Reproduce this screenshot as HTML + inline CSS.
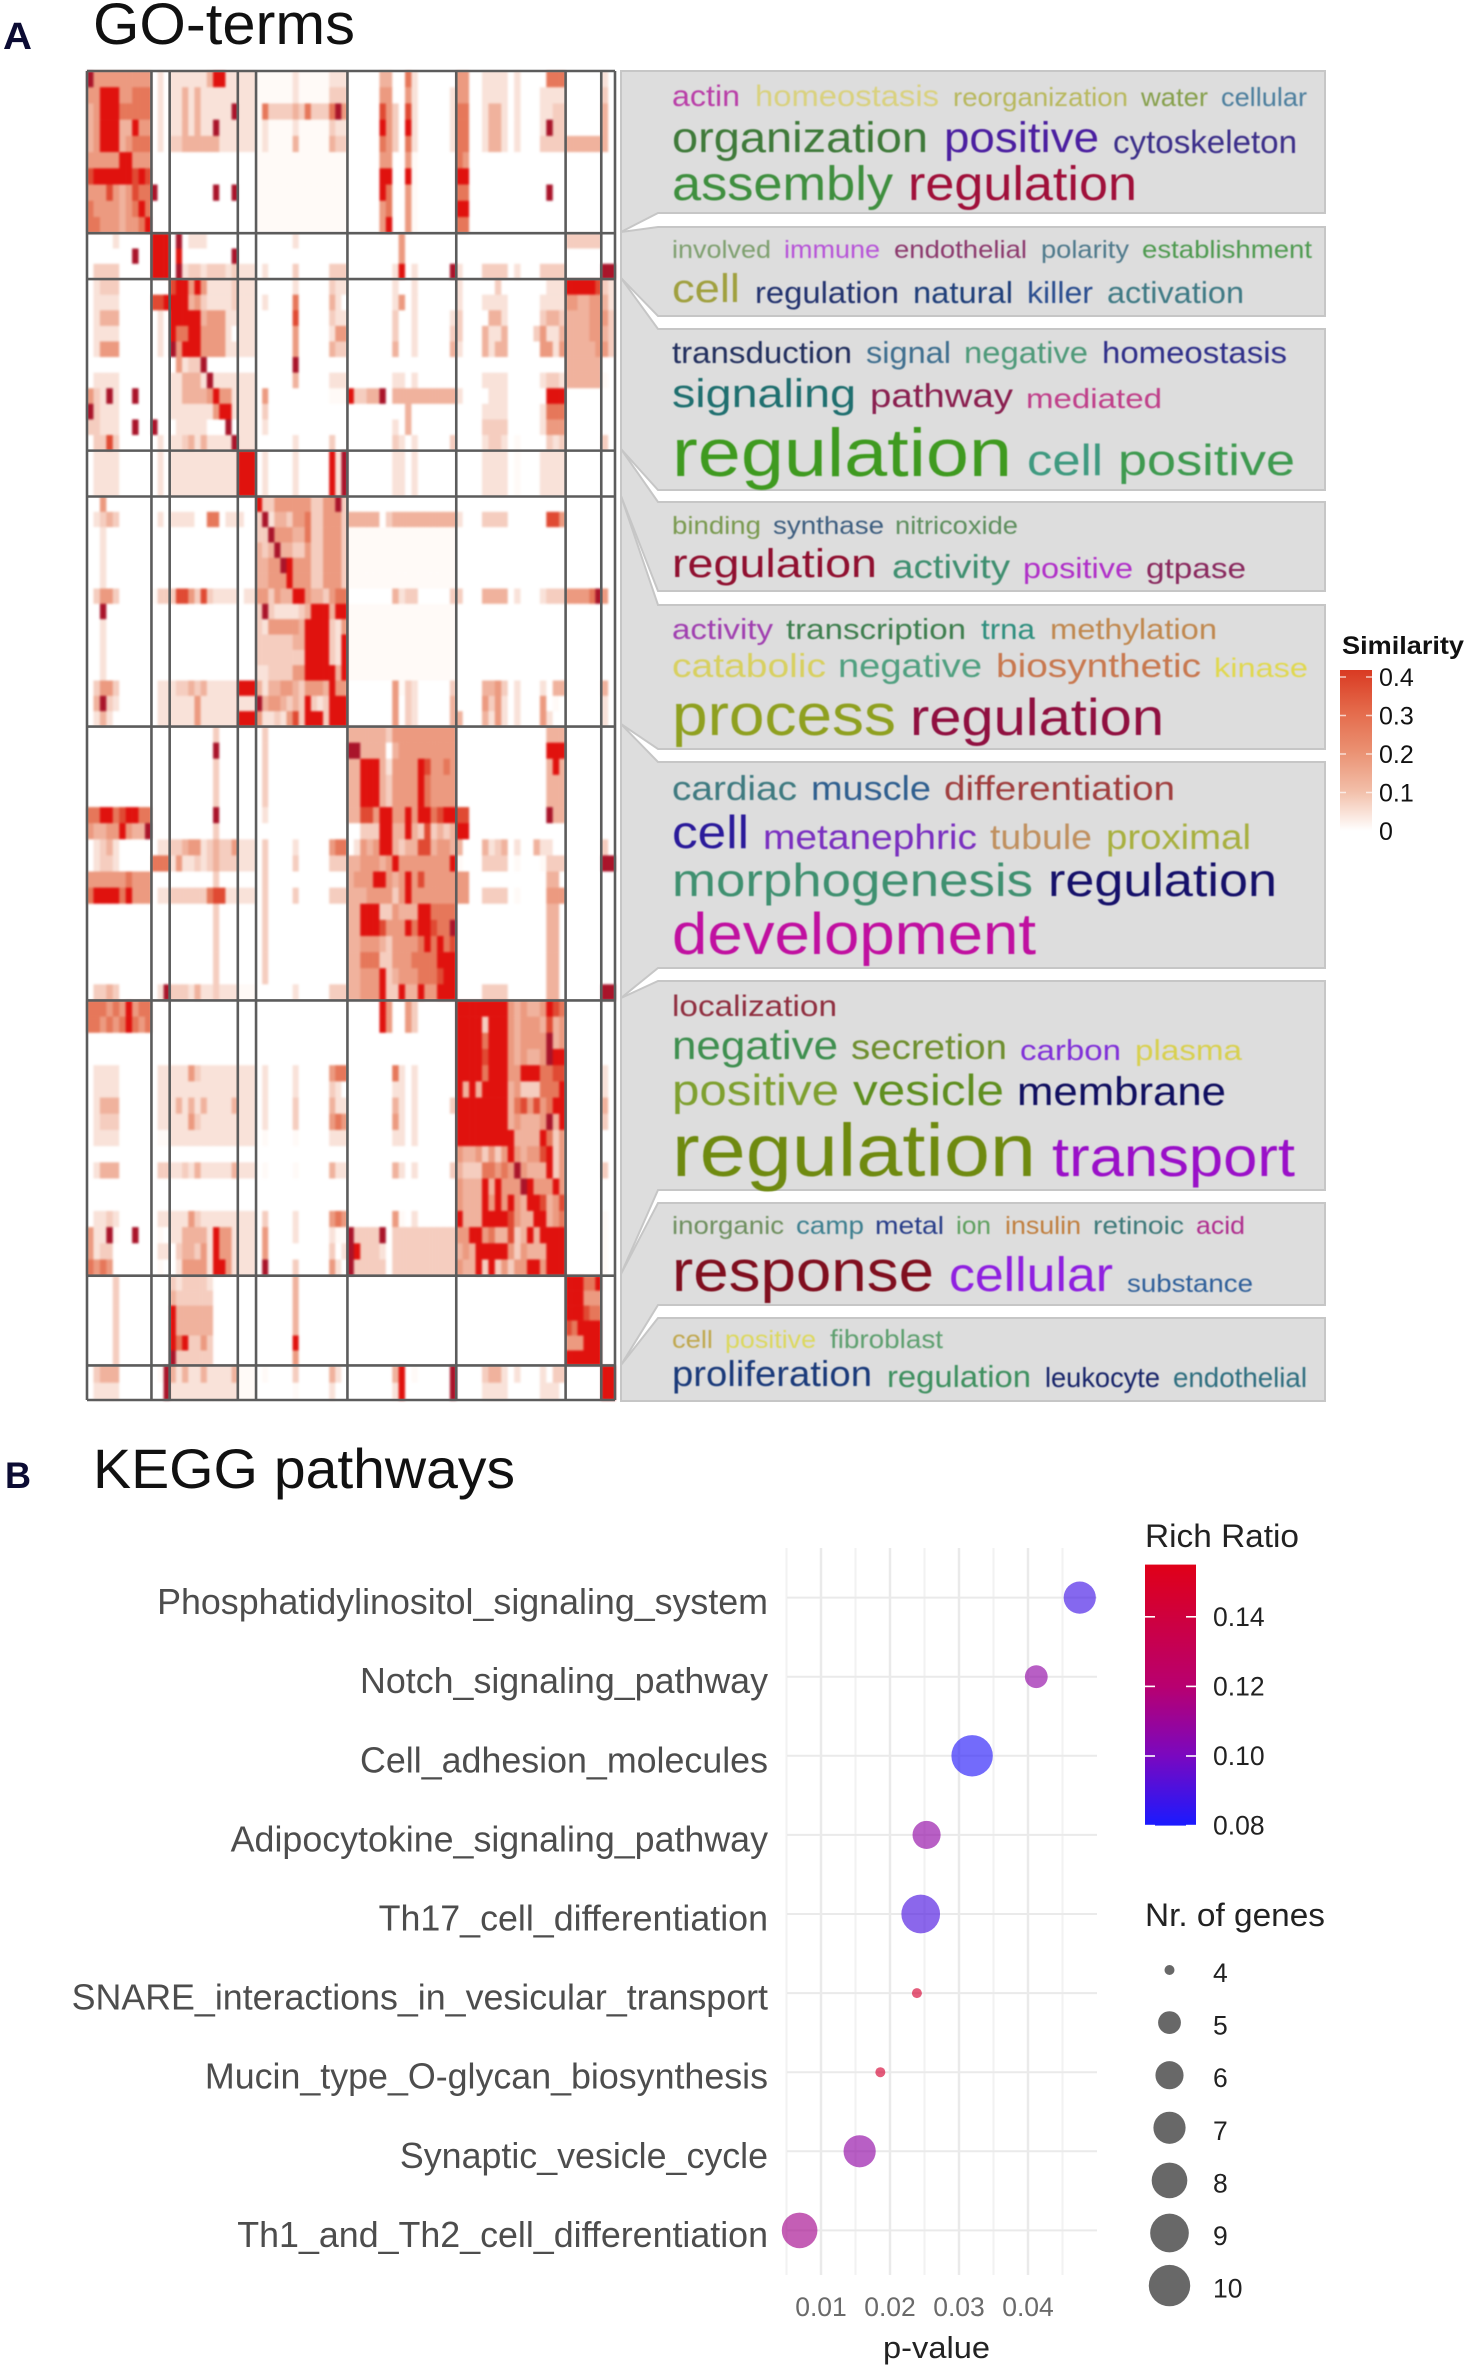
<!DOCTYPE html>
<html lang="en">
<head>
<meta charset="utf-8">
<title>GO-terms and KEGG pathways</title>
<style>
html,body{margin:0;padding:0;background:#fff;}
svg{display:block;font-family:"Liberation Sans",sans-serif;}
.w{filter:blur(.5px);}
</style>
</head>
<body>
<svg id="fig" width="1469" height="2371" viewBox="0 0 1469 2371" xmlns="http://www.w3.org/2000/svg">
<text x="3" y="49" font-size="38" font-weight="bold" fill="#0b0b33" textLength="29" lengthAdjust="spacingAndGlyphs">A</text>
<text x="93" y="44" font-size="58" fill="#111" textLength="262" lengthAdjust="spacingAndGlyphs">GO-terms</text>
<text x="5" y="1488" font-size="37" font-weight="bold" fill="#0b0b33" textLength="26" lengthAdjust="spacingAndGlyphs">B</text>
<text x="93" y="1488" font-size="56" fill="#111" textLength="422" lengthAdjust="spacingAndGlyphs">KEGG pathways</text>

<g id="heatmap-cells" style="filter:blur(1.1px)"></g>
<g id="heatmap-lines"></g>

<g fill="#dddddd" stroke="#c6c6c6" stroke-width="2">
<polygon points="621,71 658,71 1325,71 1325,213 658,213 621,232"/>
<polygon points="621,232 658,227 1325,227 1325,316 658,316 621,278"/>
<polygon points="621,278 658,329 1325,329 1325,490 658,490 621,449"/>
<polygon points="621,449 658,502 1325,502 1325,591 658,591 621,496"/>
<polygon points="621,496 658,605 1325,605 1325,749 658,749 621,724"/>
<polygon points="621,724 658,762 1325,762 1325,968 658,968 621,998"/>
<polygon points="621,998 658,981 1325,981 1325,1190 658,1190 621,1274"/>
<polygon points="621,1274 658,1203 1325,1203 1325,1305 658,1305 621,1365"/>
<polygon points="621,1365 658,1318 1325,1318 1325,1401 621,1401"/>
</g>

<g class="w">
<text x="672" y="106" font-size="30" fill="#b93fa8" textLength="68" lengthAdjust="spacingAndGlyphs">actin</text>
<text x="755" y="106" font-size="30" fill="#d9d17e" textLength="184" lengthAdjust="spacingAndGlyphs">homeostasis</text>
<text x="953" y="106" font-size="26" fill="#b8b85e" textLength="175" lengthAdjust="spacingAndGlyphs">reorganization</text>
<text x="1141" y="106" font-size="26" fill="#87a04d" textLength="67" lengthAdjust="spacingAndGlyphs">water</text>
<text x="1221" y="106" font-size="26" fill="#4d7f9e" textLength="86" lengthAdjust="spacingAndGlyphs">cellular</text>
<text x="672" y="152" font-size="43" fill="#3f7a3a" textLength="256" lengthAdjust="spacingAndGlyphs">organization</text>
<text x="944" y="152" font-size="43" fill="#4b1fa0" textLength="155" lengthAdjust="spacingAndGlyphs">positive</text>
<text x="1113" y="153" font-size="32" fill="#3c2f8a" textLength="184" lengthAdjust="spacingAndGlyphs">cytoskeleton</text>
<text x="672" y="200" font-size="48" fill="#3f8f3f" textLength="221" lengthAdjust="spacingAndGlyphs">assembly</text>
<text x="908" y="200" font-size="48" fill="#a0103a" textLength="229" lengthAdjust="spacingAndGlyphs">regulation</text>

<text x="672" y="258" font-size="25" fill="#7fa070" textLength="99" lengthAdjust="spacingAndGlyphs">involved</text>
<text x="784" y="258" font-size="25" fill="#b755d8" textLength="96" lengthAdjust="spacingAndGlyphs">immune</text>
<text x="894" y="258" font-size="25" fill="#8c3a6e" textLength="133" lengthAdjust="spacingAndGlyphs">endothelial</text>
<text x="1041" y="258" font-size="25" fill="#4f7a8c" textLength="88" lengthAdjust="spacingAndGlyphs">polarity</text>
<text x="1142" y="258" font-size="25" fill="#4f9a50" textLength="170" lengthAdjust="spacingAndGlyphs">establishment</text>
<text x="672" y="302" font-size="40" fill="#a0a040" textLength="68" lengthAdjust="spacingAndGlyphs">cell</text>
<text x="755" y="303" font-size="31" fill="#23336f" textLength="144" lengthAdjust="spacingAndGlyphs">regulation</text>
<text x="913" y="303" font-size="31" fill="#1f3f7a" textLength="100" lengthAdjust="spacingAndGlyphs">natural</text>
<text x="1027" y="303" font-size="31" fill="#2c4f90" textLength="66" lengthAdjust="spacingAndGlyphs">killer</text>
<text x="1107" y="303" font-size="31" fill="#3f7a85" textLength="137" lengthAdjust="spacingAndGlyphs">activation</text>

<text x="672" y="363" font-size="31" fill="#23305f" textLength="180" lengthAdjust="spacingAndGlyphs">transduction</text>
<text x="866" y="363" font-size="31" fill="#3f6f8f" textLength="85" lengthAdjust="spacingAndGlyphs">signal</text>
<text x="964" y="363" font-size="31" fill="#4f9a7a" textLength="124" lengthAdjust="spacingAndGlyphs">negative</text>
<text x="1102" y="363" font-size="31" fill="#30308a" textLength="185" lengthAdjust="spacingAndGlyphs">homeostasis</text>
<text x="672" y="407" font-size="40" fill="#1f6f6f" textLength="184" lengthAdjust="spacingAndGlyphs">signaling</text>
<text x="870" y="407" font-size="33" fill="#8a2050" textLength="143" lengthAdjust="spacingAndGlyphs">pathway</text>
<text x="1026" y="408" font-size="28" fill="#c0408a" textLength="136" lengthAdjust="spacingAndGlyphs">mediated</text>
<text x="672" y="476" font-size="68" fill="#3f9a20" textLength="340" lengthAdjust="spacingAndGlyphs">regulation</text>
<text x="1027" y="475" font-size="44" fill="#3f9a80" textLength="76" lengthAdjust="spacingAndGlyphs">cell</text>
<text x="1118" y="475" font-size="44" fill="#3f9a50" textLength="177" lengthAdjust="spacingAndGlyphs">positive</text>

<text x="672" y="534" font-size="25" fill="#7a9a50" textLength="89" lengthAdjust="spacingAndGlyphs">binding</text>
<text x="773" y="534" font-size="25" fill="#3f5f80" textLength="111" lengthAdjust="spacingAndGlyphs">synthase</text>
<text x="895" y="534" font-size="25" fill="#5f8f5f" textLength="123" lengthAdjust="spacingAndGlyphs">nitricoxide</text>
<text x="672" y="577" font-size="40" fill="#901030" textLength="205" lengthAdjust="spacingAndGlyphs">regulation</text>
<text x="892" y="578" font-size="33" fill="#3f8f70" textLength="118" lengthAdjust="spacingAndGlyphs">activity</text>
<text x="1023" y="578" font-size="29" fill="#b030c8" textLength="110" lengthAdjust="spacingAndGlyphs">positive</text>
<text x="1146" y="578" font-size="29" fill="#8a2a5f" textLength="100" lengthAdjust="spacingAndGlyphs">gtpase</text>

<text x="672" y="639" font-size="29" fill="#a040b0" textLength="101" lengthAdjust="spacingAndGlyphs">activity</text>
<text x="786" y="639" font-size="29" fill="#3f7f4f" textLength="180" lengthAdjust="spacingAndGlyphs">transcription</text>
<text x="981" y="639" font-size="29" fill="#2f8f7f" textLength="54" lengthAdjust="spacingAndGlyphs">trna</text>
<text x="1050" y="639" font-size="29" fill="#c0884f" textLength="167" lengthAdjust="spacingAndGlyphs">methylation</text>
<text x="672" y="677" font-size="33" fill="#d8d060" textLength="154" lengthAdjust="spacingAndGlyphs">catabolic</text>
<text x="838" y="677" font-size="33" fill="#50a080" textLength="144" lengthAdjust="spacingAndGlyphs">negative</text>
<text x="996" y="677" font-size="33" fill="#c8784f" textLength="205" lengthAdjust="spacingAndGlyphs">biosynthetic</text>
<text x="1214" y="677" font-size="27" fill="#e0d850" textLength="94" lengthAdjust="spacingAndGlyphs">kinase</text>
<text x="672" y="735" font-size="58" fill="#8fa020" textLength="224" lengthAdjust="spacingAndGlyphs">process</text>
<text x="910" y="735" font-size="52" fill="#901040" textLength="254" lengthAdjust="spacingAndGlyphs">regulation</text>

<text x="672" y="800" font-size="34" fill="#3f7a80" textLength="125" lengthAdjust="spacingAndGlyphs">cardiac</text>
<text x="811" y="800" font-size="34" fill="#2f5f8f" textLength="120" lengthAdjust="spacingAndGlyphs">muscle</text>
<text x="944" y="800" font-size="34" fill="#a03f3f" textLength="231" lengthAdjust="spacingAndGlyphs">differentiation</text>
<text x="672" y="848" font-size="46" fill="#2a1a9a" textLength="77" lengthAdjust="spacingAndGlyphs">cell</text>
<text x="763" y="849" font-size="35" fill="#7a30c0" textLength="214" lengthAdjust="spacingAndGlyphs">metanephric</text>
<text x="990" y="849" font-size="35" fill="#c0905f" textLength="102" lengthAdjust="spacingAndGlyphs">tubule</text>
<text x="1106" y="849" font-size="35" fill="#a8b040" textLength="145" lengthAdjust="spacingAndGlyphs">proximal</text>
<text x="672" y="896" font-size="46" fill="#3f9070" textLength="361" lengthAdjust="spacingAndGlyphs">morphogenesis</text>
<text x="1048" y="896" font-size="46" fill="#15106a" textLength="229" lengthAdjust="spacingAndGlyphs">regulation</text>
<text x="672" y="954" font-size="58" fill="#c010a0" textLength="364" lengthAdjust="spacingAndGlyphs">development</text>

<text x="672" y="1016" font-size="30" fill="#902f40" textLength="165" lengthAdjust="spacingAndGlyphs">localization</text>
<text x="672" y="1059" font-size="40" fill="#3f8f50" textLength="166" lengthAdjust="spacingAndGlyphs">negative</text>
<text x="851" y="1059" font-size="35" fill="#6f8f30" textLength="156" lengthAdjust="spacingAndGlyphs">secretion</text>
<text x="1020" y="1060" font-size="29" fill="#8030d8" textLength="101" lengthAdjust="spacingAndGlyphs">carbon</text>
<text x="1135" y="1060" font-size="29" fill="#d8d050" textLength="107" lengthAdjust="spacingAndGlyphs">plasma</text>
<text x="672" y="1105" font-size="44" fill="#7fa030" textLength="167" lengthAdjust="spacingAndGlyphs">positive</text>
<text x="853" y="1105" font-size="44" fill="#5f8f20" textLength="151" lengthAdjust="spacingAndGlyphs">vesicle</text>
<text x="1017" y="1105" font-size="40" fill="#100f60" textLength="209" lengthAdjust="spacingAndGlyphs">membrane</text>
<text x="672" y="1176" font-size="74" fill="#6f8a10" textLength="364" lengthAdjust="spacingAndGlyphs">regulation</text>
<text x="1052" y="1176" font-size="56" fill="#9a10c8" textLength="243" lengthAdjust="spacingAndGlyphs">transport</text>

<text x="672" y="1234" font-size="25" fill="#6f9060" textLength="112" lengthAdjust="spacingAndGlyphs">inorganic</text>
<text x="796" y="1234" font-size="25" fill="#3f8090" textLength="68" lengthAdjust="spacingAndGlyphs">camp</text>
<text x="875" y="1234" font-size="25" fill="#2a3f8a" textLength="69" lengthAdjust="spacingAndGlyphs">metal</text>
<text x="956" y="1234" font-size="25" fill="#60a060" textLength="35" lengthAdjust="spacingAndGlyphs">ion</text>
<text x="1005" y="1234" font-size="25" fill="#c07f3f" textLength="76" lengthAdjust="spacingAndGlyphs">insulin</text>
<text x="1093" y="1234" font-size="25" fill="#3f7a7a" textLength="91" lengthAdjust="spacingAndGlyphs">retinoic</text>
<text x="1196" y="1234" font-size="25" fill="#b0308f" textLength="49" lengthAdjust="spacingAndGlyphs">acid</text>
<text x="672" y="1291" font-size="58" fill="#800f1f" textLength="262" lengthAdjust="spacingAndGlyphs">response</text>
<text x="949" y="1291" font-size="48" fill="#8f20e0" textLength="164" lengthAdjust="spacingAndGlyphs">cellular</text>
<text x="1127" y="1292" font-size="25" fill="#30609a" textLength="126" lengthAdjust="spacingAndGlyphs">substance</text>

<text x="672" y="1348" font-size="25" fill="#c0a850" textLength="41" lengthAdjust="spacingAndGlyphs">cell</text>
<text x="725" y="1348" font-size="25" fill="#dcd860" textLength="91" lengthAdjust="spacingAndGlyphs">positive</text>
<text x="830" y="1348" font-size="26" fill="#5fa070" textLength="113" lengthAdjust="spacingAndGlyphs">fibroblast</text>
<text x="672" y="1386" font-size="36" fill="#1a3a7a" textLength="200" lengthAdjust="spacingAndGlyphs">proliferation</text>
<text x="887" y="1387" font-size="31" fill="#3f9060" textLength="144" lengthAdjust="spacingAndGlyphs">regulation</text>
<text x="1045" y="1387" font-size="28" fill="#18256a" textLength="115" lengthAdjust="spacingAndGlyphs">leukocyte</text>
<text x="1173" y="1387" font-size="28" fill="#2f6f80" textLength="134" lengthAdjust="spacingAndGlyphs">endothelial</text>
</g>

<g id="similarity-legend">
<defs>
<linearGradient id="simGrad" x1="0" y1="0" x2="0" y2="1">
<stop offset="0" stop-color="#d93a22"/><stop offset=".25" stop-color="#e4694a"/><stop offset=".5" stop-color="#ea9071"/><stop offset=".75" stop-color="#f2bea8"/><stop offset="1" stop-color="#ffffff"/>
</linearGradient>
<linearGradient id="ratioGrad" x1="0" y1="1" x2="0" y2="0"></linearGradient>
</defs>
<text x="1342" y="654" font-size="25" font-weight="bold" fill="#111" textLength="122" lengthAdjust="spacingAndGlyphs">Similarity</text>
<rect x="1340" y="670" width="32" height="161" fill="url(#simGrad)"/>
</g>

<g id="dotplot"></g>
</svg>

<script>
/* ---------- GO-term similarity heatmap data (levels 0-9, 9 levels = 0.4 similarity) ---------- */
const clusterTerms = [10,3,11,3,15,17,17,6,2];
const clusterShare = [12.2,3.45,12.9,3.45,17.3,20.6,20.7,6.75,2.6];
const similarityTicks = [0.4,0.3,0.2,0.1,0];
const similarityTickLabels = ["0.4","0.3","0.2","0.1","0"];
const similarityLevels = [
[9,5,5,5,5,5,5,5,5,5, 0,2,0, 2,2,2,2,2,2,4,8,8,2,2, 2,2,2, 1,1,1,1,1,1,2,1,1,1,1,1,2,2,2, 0,0,0,0,0,4,4,0,0,6,2,0,0,0,0,0,0, 5,5,0,0,2,2,2,2,0,2,0,0,0,0,6,6,6, 0,0,0,0,0,0, 2,0],
[5,5,8,8,8,5,5,6,6,6, 0,2,0, 2,2,4,2,4,2,2,2,2,2,2, 2,2,2, 1,1,1,1,1,1,2,1,1,1,1,1,3,3,3, 0,0,0,0,0,5,5,0,0,5,2,0,0,0,0,0,2, 5,5,0,0,2,2,2,2,0,2,0,0,0,2,2,2,2, 0,0,0,0,0,0, 3,0],
[4,5,8,8,8,6,6,6,6,6, 0,2,0, 2,2,4,2,4,2,2,2,2,2,9, 2,2,2, 1,6,3,3,3,3,4,3,6,3,3,3,6,9,5, 0,0,0,0,0,7,5,3,0,7,2,0,0,0,0,0,2, 6,6,0,0,2,4,4,2,0,2,0,0,0,2,2,3,3, 0,0,0,0,0,0, 4,0],
[4,5,8,8,8,4,4,8,5,5, 0,2,0, 2,2,4,2,4,2,2,9,2,2,2, 2,2,2, 1,2,1,1,1,1,2,1,1,1,1,1,3,2,2, 0,0,0,0,0,8,5,3,0,8,2,0,0,0,0,0,2, 6,6,0,0,2,4,4,2,0,2,0,0,0,2,9,3,3, 0,0,0,0,0,0, 4,0],
[4,5,8,8,8,4,5,6,6,6, 0,2,0, 3,3,4,4,4,4,4,4,2,2,2, 2,2,2, 1,2,1,1,1,1,4,1,1,1,1,1,4,3,3, 0,0,0,0,0,6,5,3,0,6,2,0,0,0,0,0,2, 6,6,0,0,2,4,4,2,0,2,0,0,0,3,3,3,3, 4,4,4,4,4,4, 4,0],
[5,5,5,5,5,8,8,5,5,5, 0,0,0, 0,0,0,0,0,0,0,0,0,0,0, 0,0,0, 1,1,1,1,1,1,1,1,1,1,1,1,1,1,1, 0,0,0,0,0,5,5,0,0,5,1,0,0,0,0,0,0, 6,5,0,0,0,0,0,0,0,0,0,0,0,0,0,0,0, 0,0,0,0,0,0, 0,0],
[7,8,8,8,8,8,8,7,8,7, 0,0,0, 0,0,0,0,0,0,0,0,0,0,0, 0,0,0, 1,1,1,1,1,1,1,1,1,1,1,1,1,1,1, 0,0,0,0,0,8,8,0,0,8,1,0,0,0,0,0,0, 8,8,0,0,0,0,0,0,0,0,0,0,0,0,0,0,0, 0,0,0,0,0,0, 0,0],
[5,5,5,7,5,4,5,7,6,6, 9,0,0, 0,0,0,0,0,0,0,9,0,0,9, 0,0,0, 1,1,1,1,1,1,1,1,1,1,1,1,1,1,1, 0,0,0,0,0,8,6,0,0,5,1,0,0,0,0,0,0, 6,6,0,0,0,0,0,0,0,0,0,0,0,0,9,0,0, 0,0,0,0,0,0, 0,0],
[6,5,5,5,5,4,5,6,8,6, 0,0,0, 0,0,0,0,0,0,0,0,0,0,0, 0,0,0, 1,1,1,1,1,1,1,1,1,1,1,1,1,1,1, 0,0,0,0,0,5,6,0,0,5,1,0,0,0,0,0,0, 8,8,0,0,0,0,0,0,0,0,0,0,0,0,0,0,0, 0,0,0,0,0,0, 0,0],
[6,6,5,5,5,4,5,5,6,8, 0,0,0, 0,0,0,0,0,0,0,0,0,0,0, 0,0,0, 1,1,1,1,1,1,1,1,1,1,1,1,1,1,1, 0,0,0,0,0,5,8,0,0,5,1,0,0,0,0,0,0, 6,6,0,0,0,0,0,0,0,0,0,0,0,0,0,0,0, 0,0,0,0,0,0, 0,0],
[0,0,0,0,2,0,0,0,0,0, 8,8,8, 0,9,0,2,2,2,0,0,0,0,0, 0,0,0, 0,0,0,0,0,0,2,0,0,0,0,0,0,0,0, 0,0,0,0,0,0,0,0,5,0,0,0,0,0,0,0,0, 0,0,0,0,0,0,0,0,0,0,0,0,0,0,0,0,0, 3,3,3,3,3,3, 0,0],
[0,0,0,0,0,0,0,9,0,0, 8,8,8, 0,8,0,0,0,0,0,0,0,0,9, 0,0,0, 0,0,0,0,0,0,0,0,0,0,0,0,0,0,0, 0,0,0,0,0,0,0,0,5,0,0,0,0,0,0,0,0, 0,0,0,0,0,0,0,0,0,0,0,0,0,0,0,0,0, 0,0,0,0,0,0, 0,0],
[0,3,3,3,3,0,0,0,0,0, 8,8,8, 0,9,2,3,3,2,3,3,3,2,3, 2,2,2, 0,2,0,0,0,0,3,0,0,0,0,0,3,3,3, 0,0,0,0,0,0,0,2,8,0,2,0,0,0,0,0,9, 2,0,0,0,3,3,3,3,0,2,0,0,0,3,3,3,3, 0,0,0,0,0,0, 9,9],
[0,2,3,3,3,0,0,0,0,0, 0,0,0, 7,8,8,5,8,5,2,2,2,2,3, 2,2,2, 0,0,0,0,0,0,2,0,0,0,0,0,3,2,2, 0,0,0,0,0,0,0,2,0,0,2,0,0,0,0,0,0, 2,0,0,0,0,0,3,0,0,0,0,0,0,0,2,2,2, 8,8,8,8,8,7, 3,2],
[0,2,2,2,2,0,0,0,0,0, 7,7,8, 8,8,8,4,5,3,2,2,2,2,3, 2,2,2, 0,2,0,0,0,0,6,0,0,0,0,0,4,2,0, 0,0,0,0,0,0,0,2,5,0,2,0,0,0,0,0,0, 2,0,0,0,2,2,2,2,0,0,0,0,0,2,2,2,2, 5,5,4,4,5,5, 4,2],
[0,2,4,4,4,0,0,0,0,0, 0,2,0, 8,8,8,8,8,4,5,5,5,2,2, 2,2,2, 0,0,0,0,0,0,7,0,0,0,0,0,3,2,2, 0,0,0,0,0,0,0,3,0,0,2,0,0,0,0,0,2, 3,0,0,0,0,4,4,2,0,0,0,0,0,3,4,4,3, 4,4,4,4,5,5, 5,3],
[0,2,2,2,2,0,0,0,0,0, 0,2,0, 8,6,6,8,8,5,5,5,5,2,0, 2,2,2, 0,0,0,0,0,0,5,0,0,0,0,0,2,5,5, 0,0,0,0,0,0,0,3,0,0,2,0,0,0,0,0,3, 3,0,0,0,4,2,2,4,0,0,0,0,3,5,2,2,4, 4,4,4,4,5,5, 4,3],
[0,2,5,5,5,0,0,0,0,0, 0,2,0, 9,5,8,8,8,5,5,5,5,2,2, 2,2,2, 0,0,0,0,0,0,5,0,0,0,0,0,4,3,3, 0,0,0,0,0,0,0,4,0,0,2,0,0,0,0,0,4, 2,0,0,0,4,2,4,4,0,0,0,0,0,5,5,2,5, 4,4,4,4,4,5, 5,3],
[0,0,0,0,0,0,0,0,0,0, 0,0,0, 0,5,2,3,3,9,0,0,0,0,0, 0,0,0, 0,0,0,0,0,0,9,0,0,0,0,0,0,0,0, 0,0,0,0,0,0,0,0,0,0,0,0,0,0,0,0,0, 0,0,0,0,0,0,0,0,0,0,0,0,0,0,0,0,0, 4,4,4,4,4,4, 0,0],
[0,2,2,2,2,0,0,0,0,0, 0,0,0, 2,2,4,4,4,2,9,2,2,2,2, 2,2,2, 0,0,0,0,0,0,4,0,0,0,0,0,2,2,2, 0,0,0,0,0,0,0,2,2,0,2,0,0,0,0,0,0, 0,0,0,0,2,2,2,2,0,0,0,0,0,2,3,3,2, 4,4,4,4,4,4, 1,0],
[5,3,2,9,2,0,0,9,0,0, 0,0,0, 2,2,4,4,4,4,5,8,5,5,2, 2,2,2, 0,5,0,0,0,0,0,0,0,0,0,0,1,1,1, 8,3,3,4,4,9,0,4,4,4,4,4,4,4,4,4,4, 2,0,0,0,0,2,2,2,0,0,0,0,0,0,8,8,8, 0,0,0,0,0,0, 0,0],
[9,3,2,2,2,0,0,0,0,0, 0,0,0, 2,2,2,2,2,2,2,5,8,8,2, 2,2,2, 0,3,0,0,0,0,0,0,0,0,0,0,0,0,0, 0,0,0,0,0,0,0,0,0,4,0,0,0,0,0,0,0, 0,0,0,0,2,2,2,2,0,0,0,0,0,2,6,6,6, 0,0,0,0,0,0, 0,0],
[3,3,2,2,2,0,0,9,0,0, 9,0,0, 0,2,2,2,2,2,0,0,0,9,0, 2,2,2, 0,2,0,0,0,0,0,0,0,0,0,0,0,0,0, 0,0,0,0,0,0,0,2,0,4,0,0,0,0,0,0,0, 0,0,0,0,3,3,3,3,0,0,0,0,0,2,5,5,5, 0,0,0,0,0,0, 0,0],
[0,3,3,7,3,0,0,0,0,0, 0,2,0, 2,2,3,4,2,4,2,2,2,2,9, 2,2,2, 0,0,0,0,0,0,2,0,0,0,0,0,3,0,0, 0,0,0,0,0,0,0,3,2,0,2,0,0,0,0,0,3, 0,0,0,0,2,3,3,2,0,1,0,0,0,0,3,2,3, 0,0,0,0,0,0, 3,0],
[0,2,2,2,2,0,0,0,0,0, 0,2,0, 2,2,2,2,2,2,2,2,2,2,2, 8,8,8, 0,2,0,0,0,0,2,0,0,0,0,0,8,2,9, 0,0,0,0,0,0,0,2,2,0,2,0,0,0,0,0,0, 0,0,0,0,2,2,2,2,0,1,0,0,0,2,2,2,2, 0,0,0,0,0,0, 0,0],
[0,2,2,2,2,0,0,0,0,0, 0,2,0, 2,2,2,2,2,2,2,2,2,2,2, 8,8,8, 0,2,0,0,0,0,2,0,0,0,0,0,8,2,9, 0,0,0,0,0,0,0,2,2,0,2,0,0,0,0,0,0, 0,0,0,0,2,2,2,2,0,1,0,0,0,2,2,2,2, 0,0,0,0,0,0, 0,0],
[0,2,2,2,2,0,0,0,0,0, 0,2,0, 2,2,2,2,2,2,2,2,2,2,2, 8,8,8, 0,2,0,0,0,0,2,0,0,0,0,0,8,2,9, 0,0,0,0,0,0,0,2,2,0,2,0,0,0,0,0,0, 0,0,0,0,2,2,2,2,0,1,0,0,0,2,2,2,2, 0,0,0,0,0,0, 0,0],
[0,0,5,0,0,0,0,0,0,0, 0,0,0, 0,0,0,0,0,0,0,0,0,0,0, 0,0,0, 8,3,3,5,5,5,5,5,5,3,3,5,5,9,3, 0,0,0,0,0,0,0,0,0,0,0,0,0,0,0,0,0, 0,0,0,0,0,0,0,0,0,0,0,0,0,0,0,0,0, 0,0,0,0,0,0, 0,0],
[0,2,3,4,3,0,0,0,0,0, 0,2,0, 2,2,2,2,0,0,6,6,0,2,2, 2,0,0, 3,9,2,4,4,3,5,5,6,3,3,5,5,5,3, 4,4,4,4,4,0,3,4,4,4,4,4,4,4,4,4,4, 2,0,0,0,3,3,3,3,0,0,0,0,0,0,7,7,5, 0,0,0,0,0,0, 0,0],
[0,0,2,0,0,0,0,0,0,0, 0,0,0, 0,0,0,0,0,0,0,0,0,0,0, 0,0,0, 3,3,9,5,5,5,4,4,6,3,3,5,5,5,3, 1,1,1,1,1,1,1,1,1,1,1,1,1,1,1,1,1, 0,0,0,0,0,0,0,0,0,0,0,0,0,0,0,0,0, 0,0,0,0,0,0, 0,0],
[0,0,2,0,0,0,0,0,0,0, 0,0,0, 0,0,0,0,0,0,0,0,0,0,0, 0,0,0, 4,3,4,9,4,4,3,3,5,3,3,5,5,5,3, 1,1,1,1,1,1,1,1,1,1,1,1,1,1,1,1,1, 0,0,0,0,0,0,0,0,0,0,0,0,0,0,0,0,0, 0,0,0,0,0,0, 0,0],
[0,0,2,0,0,0,0,0,0,0, 0,0,0, 0,0,0,0,0,0,0,0,0,0,0, 0,0,0, 4,4,5,5,9,8,5,5,5,3,3,5,5,5,3, 1,1,1,1,1,1,1,1,1,1,1,1,1,1,1,1,1, 0,0,0,0,0,0,0,0,0,0,0,0,0,0,0,0,0, 0,0,0,0,0,0, 0,0],
[0,0,2,0,0,0,0,0,0,0, 0,0,0, 0,0,0,0,0,0,0,0,0,0,0, 0,0,0, 4,4,5,5,5,8,5,5,5,3,3,5,5,5,3, 1,1,1,1,1,1,1,1,1,1,1,1,1,1,1,1,1, 0,0,0,0,0,0,0,0,0,0,0,0,0,0,0,0,0, 0,0,0,0,0,0, 0,0],
[0,3,5,5,3,0,0,0,0,0, 1,3,3, 3,7,7,5,3,7,3,2,2,2,2, 0,2,2, 5,5,3,5,4,4,8,8,5,4,4,3,5,6,6, 0,0,0,0,0,0,0,4,2,3,3,0,0,0,0,0,3, 3,0,0,0,4,4,4,4,0,2,0,0,0,2,3,3,3, 5,5,5,5,6,9, 5,0],
[0,0,9,0,0,0,0,0,0,0, 0,0,0, 0,0,0,0,0,0,0,0,0,0,0, 0,0,0, 3,9,3,2,2,2,2,3,4,8,8,8,4,8,8, 1,1,1,1,1,1,1,1,1,1,1,1,1,1,1,1,1, 0,0,0,0,0,0,0,0,0,0,0,0,0,0,0,0,0, 0,0,0,0,0,0, 0,0],
[0,0,2,0,0,0,0,0,0,0, 0,0,0, 0,0,0,0,0,0,0,0,0,0,0, 0,0,0, 3,2,5,5,5,5,5,4,8,8,8,8,3,2,5, 1,1,1,1,1,1,1,1,1,1,1,1,1,1,1,1,1, 0,0,0,0,0,0,0,0,0,0,0,0,0,0,0,0,0, 0,0,0,0,0,0, 0,0],
[0,0,2,0,0,0,0,0,0,0, 0,0,0, 0,0,0,0,0,0,0,0,0,0,0, 0,0,0, 3,3,3,3,3,3,4,4,8,8,8,8,3,2,8, 1,1,1,1,1,1,1,1,1,1,1,1,1,1,1,1,1, 0,0,0,0,0,0,0,0,0,0,0,0,0,0,0,0,0, 0,0,0,0,0,0, 0,0],
[0,0,2,0,0,0,0,0,0,0, 0,0,0, 0,0,0,0,0,0,0,0,0,0,0, 0,0,0, 3,3,3,3,3,3,3,3,8,8,8,8,3,2,8, 1,1,1,1,1,1,1,1,1,1,1,1,1,1,1,1,1, 0,0,0,0,0,0,0,0,0,0,0,0,0,0,0,0,0, 0,0,0,0,0,0, 0,0],
[0,0,2,0,0,0,0,0,0,0, 0,0,0, 0,0,0,0,0,0,0,0,0,0,0, 0,0,0, 2,2,3,3,3,3,5,5,8,8,8,8,8,4,8, 1,1,1,1,1,1,1,1,1,1,1,1,1,1,1,1,1, 0,0,0,0,0,0,0,0,0,0,0,0,0,0,0,0,0, 0,0,0,0,0,0, 0,0],
[0,3,5,5,3,0,0,0,0,0, 0,2,2, 2,3,3,4,3,4,2,2,2,2,2, 8,8,8, 4,2,4,4,5,5,4,3,5,5,5,4,8,5,5, 0,0,0,0,0,0,0,5,1,3,2,0,0,0,0,0,3, 0,0,0,0,4,4,5,3,0,2,0,0,0,2,0,4,4, 0,0,0,0,0,0, 4,0],
[0,4,9,3,2,0,0,0,0,0, 0,2,2, 2,2,2,2,5,2,2,2,2,2,2, 2,2,2, 9,4,5,5,4,3,4,3,8,3,2,3,8,8,8, 0,0,0,0,0,0,0,5,0,3,2,0,0,0,0,0,4, 0,0,0,0,5,3,5,2,0,2,0,0,0,5,0,1,0, 0,0,0,0,0,0, 2,0],
[0,2,4,2,0,0,0,0,0,0, 0,2,2, 2,2,2,2,5,2,2,2,2,2,2, 8,8,8, 5,2,2,3,2,5,7,3,8,8,8,3,8,8,8, 0,0,0,0,0,0,0,5,0,3,2,0,0,0,0,0,4, 4,0,0,0,4,2,5,2,0,2,0,0,0,5,2,0,0, 0,0,0,0,0,0, 2,0],
[0,0,0,0,0,0,0,0,0,0, 0,0,0, 0,0,0,0,0,0,0,3,0,0,0, 0,0,0, 0,3,0,0,0,0,0,0,0,0,0,0,0,0,0, 4,4,4,4,4,4,3,5,5,5,5,5,5,5,5,5,5, 0,0,0,0,0,0,0,0,0,0,0,0,0,0,4,4,4, 0,0,0,0,0,0, 0,0],
[0,0,0,0,0,0,0,0,0,0, 0,0,0, 0,0,0,0,0,0,0,9,0,0,0, 0,0,0, 0,3,0,0,0,0,0,0,0,0,0,0,0,0,0, 9,9,4,4,4,4,0,4,5,5,5,5,5,5,5,5,5, 0,0,0,0,0,0,0,0,0,0,0,0,0,0,8,8,8, 0,0,0,0,0,0, 0,0],
[0,0,0,0,0,0,0,0,0,0, 0,0,0, 0,0,0,0,0,0,0,3,0,0,0, 0,0,0, 0,3,0,0,0,0,0,0,0,0,0,0,0,0,0, 4,4,8,8,8,4,2,5,5,5,5,8,7,5,5,6,5, 0,0,0,0,0,0,0,0,0,0,0,0,0,0,4,8,4, 0,0,0,0,0,0, 0,0],
[0,0,0,0,0,0,0,0,0,0, 0,0,0, 0,0,0,0,0,0,0,3,0,0,0, 0,0,0, 0,3,0,0,0,0,0,0,0,0,0,0,0,0,0, 4,4,8,8,8,4,3,5,5,5,5,8,6,5,5,5,5, 0,0,0,0,0,0,0,0,0,0,0,0,0,0,4,4,4, 0,0,0,0,0,0, 0,0],
[0,0,0,0,0,0,0,0,0,0, 0,0,0, 0,0,0,0,0,0,0,3,0,0,0, 0,0,0, 0,3,0,0,0,0,0,0,0,0,0,0,0,0,0, 4,4,8,8,8,4,3,5,5,5,5,8,6,5,5,5,5, 0,0,0,0,0,0,0,0,0,0,0,0,0,0,4,4,4, 0,0,0,0,0,0, 0,0],
[6,6,8,8,6,7,8,8,6,6, 0,0,0, 0,0,0,0,0,0,0,9,0,0,0, 0,0,0, 0,2,0,0,0,0,0,0,0,0,0,0,0,0,0, 4,4,7,7,5,8,8,5,5,8,5,8,8,6,7,8,8, 7,7,0,0,0,0,0,0,0,0,0,0,0,0,9,4,4, 0,0,0,0,0,0, 0,0],
[5,4,4,5,5,8,5,4,4,9, 0,0,0, 0,0,0,0,0,0,0,3,0,0,0, 0,0,0, 0,0,0,0,0,0,0,0,0,0,0,0,0,0,0, 0,0,3,3,3,8,8,4,4,8,4,3,7,3,4,3,4, 8,8,0,0,0,0,0,0,0,0,0,0,0,0,0,0,0, 0,0,0,0,0,0, 0,0],
[0,2,3,4,2,0,0,0,0,0, 0,2,2, 3,3,4,5,5,2,3,4,3,3,5, 2,2,2, 0,3,0,0,0,0,2,0,0,0,0,0,5,6,6, 0,2,5,4,5,8,8,4,3,4,4,7,7,4,5,5,4, 4,0,0,0,4,2,3,4,0,2,0,0,4,2,2,0,0, 0,0,0,0,0,0, 3,0],
[0,2,3,3,2,0,0,0,0,0, 6,6,6, 2,5,2,2,3,2,3,4,3,3,3, 2,2,2, 0,3,0,0,0,0,3,0,0,0,0,0,3,3,3, 4,4,5,5,5,4,5,8,5,5,5,5,5,5,5,5,8, 1,0,0,0,3,3,3,3,0,1,0,0,0,1,3,3,3, 0,0,0,0,0,0, 9,9],
[5,5,5,5,5,5,6,5,5,5, 0,0,0, 0,0,0,0,0,0,0,3,0,0,0, 0,0,0, 0,3,0,0,0,0,0,0,0,0,0,0,0,0,0, 4,5,5,5,8,8,5,4,5,8,5,7,5,5,5,5,5, 5,5,0,0,0,0,0,0,0,0,0,0,0,0,4,4,0, 0,0,0,0,0,0, 0,0],
[6,8,8,8,8,6,8,5,5,5, 0,2,2, 3,3,3,3,3,3,6,7,7,2,2, 2,2,2, 0,3,0,0,0,0,3,0,0,0,0,0,3,3,3, 4,4,4,5,5,5,5,3,5,8,5,5,5,5,5,5,5, 5,5,0,0,3,3,3,3,0,1,0,0,0,0,5,5,5, 0,0,0,0,0,0, 0,0],
[0,0,0,0,0,0,0,0,0,0, 0,0,0, 0,0,0,0,0,0,0,3,0,0,0, 0,0,0, 0,3,0,0,0,0,0,0,0,0,0,0,0,0,0, 4,4,8,8,8,3,3,5,4,4,4,8,8,6,6,6,6, 0,0,0,0,0,0,0,0,0,0,0,0,0,0,4,4,0, 0,0,0,0,0,0, 0,0],
[0,0,0,0,0,0,0,0,0,0, 0,0,0, 0,0,0,0,0,0,0,3,0,0,0, 0,0,0, 0,3,0,0,0,0,0,0,0,0,0,0,0,0,0, 4,4,8,8,8,7,5,5,5,8,6,8,8,7,6,6,9, 0,0,0,0,0,0,0,0,0,0,0,0,0,0,4,4,0, 0,0,0,0,0,0, 0,0],
[0,0,0,0,0,0,0,0,0,0, 0,0,0, 0,0,0,0,0,0,0,3,0,0,0, 0,0,0, 0,3,0,0,0,0,0,0,0,0,0,0,0,0,0, 4,4,5,5,5,4,3,5,5,5,5,6,8,6,8,6,7, 0,0,0,0,0,0,0,0,0,0,0,0,0,0,4,4,0, 0,0,0,0,0,0, 0,0],
[0,0,0,0,0,0,0,0,0,0, 0,0,0, 0,0,0,0,0,0,0,3,0,0,0, 0,0,0, 0,3,0,0,0,0,0,0,0,0,0,0,0,0,0, 4,4,6,6,6,3,3,5,5,5,6,6,6,6,8,8,8, 0,0,0,0,0,0,0,0,0,0,0,0,0,0,4,4,0, 0,0,0,0,0,0, 0,0],
[0,0,0,0,0,0,0,0,0,0, 0,0,0, 0,0,0,0,0,0,0,3,0,0,0, 0,0,0, 0,3,0,0,0,0,0,0,0,0,0,0,0,0,0, 4,4,5,5,5,8,3,4,5,5,5,6,6,6,7,8,8, 0,0,0,0,0,0,0,0,0,0,0,0,0,0,4,4,0, 0,0,0,0,0,0, 0,0],
[0,3,3,4,3,0,0,0,0,0, 0,2,9, 3,3,3,2,4,2,2,3,2,2,2, 1,1,1, 0,0,0,0,0,0,2,0,0,0,0,0,3,3,3, 4,4,5,5,5,8,3,3,8,4,4,8,5,5,8,8,8, 0,0,0,0,3,3,3,3,0,0,0,0,0,0,4,4,0, 0,0,0,0,0,0, 9,9],
[6,6,6,5,6,5,8,5,6,6, 0,0,0, 0,0,0,0,0,0,0,0,0,0,0, 0,0,0, 0,0,0,0,0,0,0,0,0,0,0,0,0,0,0, 0,0,0,0,0,8,5,0,0,5,3,0,0,0,0,0,0, 8,8,8,8,8,8,8,8,5,4,5,4,4,5,8,7,6, 0,0,0,0,0,0, 0,0],
[6,6,5,6,5,6,8,6,5,6, 0,0,0, 0,0,0,0,0,0,0,0,0,0,0, 0,0,0, 0,0,0,0,0,0,0,0,0,0,0,0,0,0,0, 0,0,0,0,0,8,5,0,0,5,3,0,0,0,0,0,0, 8,8,8,8,3,8,8,8,5,4,5,5,5,4,7,4,5, 0,0,0,0,0,0, 0,0],
[0,0,0,0,0,0,0,0,0,0, 0,0,0, 0,0,0,0,0,0,0,0,0,0,0, 0,0,0, 0,0,0,0,0,0,0,0,0,0,0,0,0,0,0, 0,0,0,0,0,0,0,0,0,0,0,0,0,0,0,0,0, 8,8,8,8,6,8,8,8,5,4,5,5,5,5,9,4,5, 0,0,0,0,0,0, 0,0],
[0,0,0,0,0,0,0,0,0,0, 0,0,0, 0,0,0,0,0,0,0,0,0,0,0, 0,0,0, 0,0,0,0,0,0,0,0,0,0,0,0,0,0,0, 0,0,0,0,0,0,0,0,0,0,0,0,0,0,0,0,0, 8,8,8,8,7,8,8,8,5,4,5,4,4,5,9,8,8, 0,0,0,0,0,0, 0,0],
[0,2,2,2,2,0,0,0,0,0, 0,2,2, 2,2,2,5,3,2,2,2,2,2,2, 2,2,2, 0,2,0,0,0,0,2,0,0,0,0,0,5,6,6, 0,0,0,0,0,0,0,6,2,0,2,0,0,0,0,0,0, 8,8,8,8,6,8,8,8,5,5,8,8,8,6,6,7,7, 0,0,0,0,0,0, 2,0],
[0,2,2,2,2,0,0,0,0,0, 0,2,2, 2,2,2,2,2,2,2,2,2,2,2, 2,2,2, 0,2,0,0,0,0,2,0,0,0,0,0,3,2,0, 0,0,0,0,0,0,0,2,2,0,2,0,0,0,0,0,0, 8,4,8,4,8,8,8,8,4,5,3,3,3,6,6,6,8, 0,0,0,0,0,0, 2,0],
[0,2,4,4,4,0,0,0,0,0, 0,2,2, 2,4,2,4,2,4,2,2,2,2,4, 2,2,2, 0,2,0,0,0,0,3,0,0,0,0,0,4,2,2, 0,0,0,0,0,0,0,4,2,0,2,0,0,0,0,0,3, 8,8,8,8,8,8,8,8,4,6,7,5,7,5,6,8,8, 0,0,0,0,0,0, 4,0],
[0,2,3,3,3,0,0,0,0,0, 0,2,2, 2,2,2,5,3,2,2,2,2,2,2, 2,2,2, 0,2,0,0,0,0,3,0,0,0,0,0,5,6,5, 0,0,0,0,0,0,0,5,2,0,2,0,0,0,0,0,0, 8,8,8,8,8,8,8,8,4,5,4,4,4,5,9,4,8, 0,0,0,0,0,0, 3,0],
[0,2,2,2,2,0,0,0,0,0, 0,1,1, 2,2,2,2,2,2,2,2,2,2,2, 2,2,2, 0,1,0,0,0,0,1,0,0,0,0,0,2,2,2, 0,0,0,0,0,0,0,2,2,0,2,0,0,0,0,0,0, 8,8,8,8,8,8,8,8,8,4,4,4,4,8,6,3,5, 0,0,0,0,0,0, 0,0],
[0,0,0,0,0,0,0,0,0,0, 0,0,0, 0,0,0,0,0,0,0,0,0,0,0, 0,0,0, 0,0,0,0,0,0,0,0,0,0,0,0,0,0,0, 0,0,0,0,0,0,0,0,0,0,0,0,0,0,0,0,0, 5,4,4,5,3,5,3,5,8,5,4,5,5,7,8,3,5, 0,0,0,0,0,0, 0,0],
[0,2,4,4,4,0,0,0,0,0, 0,3,3, 2,2,3,2,4,2,2,2,2,2,4, 2,2,2, 0,1,0,0,0,0,1,0,0,0,0,0,4,2,2, 0,0,0,0,0,0,0,4,2,0,2,0,0,0,0,0,3, 4,3,3,3,6,6,5,6,5,9,5,4,4,4,8,3,5, 0,0,0,0,0,0, 3,0],
[0,0,0,0,0,0,0,0,0,0, 0,0,0, 0,0,0,0,0,0,0,0,0,0,0, 0,0,0, 0,0,0,0,0,0,0,0,0,0,0,0,0,0,0, 0,0,0,0,0,0,0,0,0,0,0,0,0,0,0,0,0, 5,4,4,4,8,4,8,5,5,5,9,8,5,5,5,8,5, 0,0,0,0,0,0, 0,0],
[0,0,0,0,0,0,0,0,0,0, 0,0,0, 0,0,0,0,0,0,0,0,0,0,0, 0,0,0, 0,0,0,0,0,0,0,0,0,0,0,0,0,0,0, 0,0,0,0,0,0,0,0,0,0,0,0,0,0,0,0,0, 5,4,4,4,8,5,8,5,8,5,4,8,8,7,4,5,7, 0,0,0,0,0,0, 0,0],
[0,2,2,3,2,0,0,0,0,0, 0,2,2, 2,2,2,5,3,2,2,2,2,2,2, 2,2,2, 0,3,0,0,0,0,2,0,0,0,0,0,5,6,5, 0,0,0,0,0,0,0,5,1,0,2,0,0,0,0,0,0, 8,4,4,4,8,8,8,8,7,5,4,4,8,8,4,5,6, 0,0,0,0,0,0, 1,0],
[5,2,2,9,1,0,0,9,0,0, 0,1,0, 2,2,4,4,4,4,2,8,5,5,2, 2,2,2, 0,5,0,0,0,0,2,0,0,0,0,0,2,1,1, 9,3,3,3,3,9,0,3,3,3,3,3,3,3,3,3,3, 5,5,8,8,5,6,4,4,7,3,4,8,4,8,8,8,8, 0,0,0,0,0,0, 1,0],
[5,2,3,3,0,0,0,0,0,0, 0,2,2, 0,3,4,4,3,5,2,8,5,5,2, 2,2,2, 0,5,0,0,0,0,0,0,0,0,0,0,3,0,2, 9,8,3,3,3,2,0,3,3,3,3,3,3,3,3,3,3, 4,5,4,8,8,8,8,8,5,3,5,4,4,4,8,8,8, 0,0,0,0,0,0, 1,0],
[6,5,6,5,0,0,0,0,0,0, 0,1,0, 0,2,5,5,5,5,2,8,8,5,2, 2,2,2, 0,9,0,0,0,0,3,0,0,0,0,0,5,2,0, 9,3,3,3,3,3,0,3,3,3,3,3,3,3,3,3,3, 5,4,4,8,3,8,3,5,3,5,5,8,8,5,8,8,8, 0,0,0,0,0,0, 1,0],
[0,0,0,0,3,0,0,0,0,0, 0,0,0, 3,2,3,3,3,3,2,0,0,0,0, 0,0,0, 0,0,0,0,0,0,4,0,0,0,0,0,0,0,0, 0,0,0,0,0,0,0,0,0,0,0,0,0,0,0,0,0, 0,0,0,0,0,0,0,0,0,0,0,0,0,0,0,0,0, 8,8,8,6,6,8, 0,0],
[0,0,0,0,3,0,0,0,0,0, 0,0,0, 4,3,3,3,3,3,3,0,0,0,0, 0,0,0, 0,0,0,0,0,0,4,0,0,0,0,0,0,0,0, 0,0,0,0,0,0,0,0,0,0,0,0,0,0,0,0,0, 0,0,0,0,0,0,0,0,0,0,0,0,0,0,0,0,0, 8,8,8,5,5,5, 0,0],
[0,0,0,0,3,0,0,0,0,0, 0,0,0, 8,4,4,4,4,4,4,0,0,0,0, 0,0,0, 0,0,0,0,0,0,4,0,0,0,0,0,0,0,0, 0,0,0,0,0,0,0,0,0,0,0,0,0,0,0,0,0, 0,0,0,0,0,0,0,0,0,0,0,0,0,0,0,0,0, 8,8,8,7,6,6, 0,0],
[0,0,0,0,3,0,0,0,0,0, 0,0,0, 8,4,4,4,4,4,4,0,0,0,0, 0,0,0, 0,0,0,0,0,0,4,0,0,0,0,0,0,0,0, 0,0,0,0,0,0,0,0,0,0,0,0,0,0,0,0,0, 0,0,0,0,0,0,0,0,0,0,0,0,0,0,0,0,0, 7,6,8,8,8,8, 0,0],
[0,0,0,0,3,0,0,0,0,0, 0,0,0, 8,6,8,3,3,5,3,0,0,0,0, 0,0,0, 0,0,0,0,0,0,8,0,0,0,0,0,0,0,0, 0,0,0,0,0,0,0,0,0,0,0,0,0,0,0,0,0, 0,0,0,0,0,0,0,0,0,0,0,0,0,0,0,0,0, 5,5,5,8,8,8, 0,0],
[0,0,0,0,3,0,0,0,0,0, 0,0,0, 9,3,3,3,3,3,3,0,0,0,0, 0,0,0, 0,0,0,0,0,0,5,0,0,0,0,0,0,0,0, 0,0,0,0,0,0,0,0,0,0,0,0,0,0,0,0,0, 0,0,0,0,0,0,0,0,0,0,0,0,0,0,0,0,0, 8,8,8,8,8,8, 0,0],
[0,3,4,4,4,0,0,0,0,0, 0,1,9, 4,2,4,2,2,4,2,2,2,2,4, 1,1,1, 0,1,0,0,0,0,3,0,0,0,0,0,4,2,0, 0,0,0,0,0,0,0,4,8,0,1,0,0,0,0,0,9, 0,0,0,0,3,4,4,2,0,2,0,0,0,2,0,3,3, 0,0,0,0,0,0, 8,8],
[0,2,2,2,2,0,0,0,0,0, 0,0,9, 2,2,2,2,2,2,2,2,2,2,2, 1,1,1, 0,0,0,0,0,0,1,0,0,0,0,0,2,0,0, 0,0,0,0,0,0,0,2,8,0,0,0,0,0,0,0,9, 0,0,0,0,2,2,2,2,0,0,0,0,0,2,2,2,0, 0,0,0,0,0,0, 8,8]
];

/* ---------- KEGG dot plot data ---------- */
const pathways = ["Phosphatidylinositol_signaling_system","Notch_signaling_pathway","Cell_adhesion_molecules","Adipocytokine_signaling_pathway","Th17_cell_differentiation","SNARE_interactions_in_vesicular_transport","Mucin_type_O-glycan_biosynthesis","Synaptic_vesicle_cycle","Th1_and_Th2_cell_differentiation"];
const pValues = [0.0475,0.0412,0.0319,0.0253,0.02445,0.0239,0.0186,0.0156,0.0069];
const geneCounts = [7,5,10,6,9,4,4,7,8];
const richRatios = [0.088,0.107,0.082,0.107,0.09,0.145,0.145,0.107,0.113];
const pTicks = [0.01,0.02,0.03,0.04];
const pTickLabels = ["0.01","0.02","0.03","0.04"];
const pMinorTicks = [0.005,0.015,0.025,0.035,0.045];
const ratioTicks = [0.08,0.10,0.12,0.14];
const ratioTickLabels = ["0.08","0.10","0.12","0.14"];
const geneLegendCounts = [4,5,6,7,8,9,10];

const NS = "http://www.w3.org/2000/svg";
function mk(tag, attrs, parent){
  const el = document.createElementNS(NS, tag);
  for (const k in attrs) el.setAttribute(k, attrs[k]);
  parent.appendChild(el);
  return el;
}

/* ---------- heatmap axis functions ---------- */
const HM = {x:87, y:71, w:528, h:1329};
const shareTotal = clusterShare.reduce((a,b)=>a+b,0);
function clusterEdge(k){
  let s = 0;
  for (let i=0;i<k;i++) s += clusterShare[i];
  return s/shareTotal;
}
function termFraction(i){
  let start = 0;
  for (let k=0;k<clusterTerms.length;k++){
    if (i <= start + clusterTerms[k]){
      return clusterEdge(k) + (i-start)/clusterTerms[k]*(clusterEdge(k+1)-clusterEdge(k));
    }
    start += clusterTerms[k];
  }
  return 1;
}
function termX(i){ return HM.x + termFraction(i)*HM.w; }
function termY(i){ return HM.y + termFraction(i)*HM.h; }
const levelPalette = ["#ffffff","#fffaf7","#f9e2d9","#f5cdbf","#f0b29d","#ec9a80","#e6775a","#e04a33","#e0120e","#a9142a"];
function levelColor(v){
  const n = Math.max(0, Math.min(levelPalette.length-1, Math.round(v)));
  return levelPalette[n];
}

const cells = document.getElementById("heatmap-cells");
similarityLevels.forEach((row,r)=>{
  row.forEach((v,c)=>{
    const x0 = termX(c), x1 = termX(c+1), y0 = termY(r), y1 = termY(r+1);
    const el = mk("rect", {x:x0.toFixed(2), y:y0.toFixed(2), width:(x1-x0+0.3).toFixed(2), height:(y1-y0+0.3).toFixed(2), fill:levelColor(v)}, cells);
    
    
  });
});

const lines = document.getElementById("heatmap-lines");
for (let k=0;k<=clusterTerms.length;k++){
  const f = clusterEdge(k);
  const vx = HM.x + f*HM.w, hy = HM.y + f*HM.h;
  const v = mk("line", {x1:vx, x2:vx, y1:HM.y, y2:HM.y+HM.h, stroke:"#5c5c5c", "stroke-width":2.6}, lines);
  
  
  const h = mk("line", {x1:HM.x, x2:HM.x+HM.w, y1:hy, y2:hy, stroke:"#5c5c5c", "stroke-width":2.6}, lines);
  
  
}

/* ---------- similarity legend ---------- */
const simLegend = document.getElementById("similarity-legend");
function simY(v){ return 831 - v/0.4*154; }
similarityTicks.forEach((v,i)=>{
  const y = simY(v);
  if (v>0){
    const t1 = mk("line", {x1:1340, x2:1346, y1:y, y2:y, stroke:"#fff", "stroke-width":1.5, opacity:.7}, simLegend);
    
    
    const t2 = mk("line", {x1:1366, x2:1372, y1:y, y2:y, stroke:"#fff", "stroke-width":1.5, opacity:.7}, simLegend);
    
    
  }
  const lab = mk("text", {x:1379, y:y+9, "font-size":25, fill:"#111"}, simLegend);
  
  
  lab.textContent = similarityTickLabels[i];
});

/* ---------- dot plot axis functions ---------- */
const plot = document.getElementById("dotplot");
function pX(p){ return 821 + (p-0.01)*6900; }
function rowY(i){ return 1597.6 + i*79.1; }
function geneR(n){ return 5 + 15.7*Math.sqrt((n-4)/6); }
const ratioStops = [[0.08,[26,26,255]],[0.10,[122,8,192]],[0.12,[184,0,112]],[0.155,[224,0,24]]];
function ratioColor(v){
  let a = ratioStops[0], b = ratioStops[ratioStops.length-1];
  for (let i=0;i<ratioStops.length-1;i++){
    if (v>=ratioStops[i][0] && v<=ratioStops[i+1][0]){ a=ratioStops[i]; b=ratioStops[i+1]; }
  }
  const t = Math.max(0,Math.min(1,(v-a[0])/(b[0]-a[0])));
  const c = a[1].map((q,j)=>Math.round(q+(b[1][j]-q)*t));
  return "rgb("+c.join(",")+")";
}
function ratioY(v){ return 1825.6 - (v-0.08)*3480; }

pMinorTicks.forEach(p=>{
  const g = mk("line", {x1:pX(p), x2:pX(p), y1:1548, y2:2275, stroke:"#f2f2f2", "stroke-width":2}, plot);
  
  
});
pTicks.forEach(p=>{
  const g = mk("line", {x1:pX(p), x2:pX(p), y1:1548, y2:2275, stroke:"#eaeaea", "stroke-width":2.5}, plot);
  
  
});
pathways.forEach((name,i)=>{
  const g = mk("line", {x1:787, x2:1097, y1:rowY(i), y2:rowY(i), stroke:"#eaeaea", "stroke-width":2}, plot);
  
  
  const t = mk("text", {x:768, y:rowY(i)+16.5, "text-anchor":"end", "font-size":35.8, fill:"#4d4d4d"}, plot);
  
  
  t.textContent = name;
});
pathways.forEach((name,i)=>{
  const d = mk("circle", {cx:pX(pValues[i]), cy:rowY(i), r:geneR(geneCounts[i]), fill:ratioColor(richRatios[i]), "fill-opacity":.64}, plot);
  
  
});
pTicks.forEach((p,i)=>{
  const t = mk("text", {x:pX(p), y:2316, "text-anchor":"middle", "font-size":26.5, fill:"#6a6a6a"}, plot);
  
  
  t.textContent = pTickLabels[i];
});
const xTitle = mk("text", {x:883, y:2358, "font-size":31, fill:"#222", textLength:107, lengthAdjust:"spacingAndGlyphs"}, plot);


xTitle.textContent = "p-value";

/* ---------- rich ratio legend ---------- */
const grad = document.getElementById("ratioGrad");
ratioStops.forEach(s=>{
  mk("stop", {offset:((s[0]-0.08)/0.075).toFixed(3), "stop-color":ratioColor(s[0])}, grad);
});
const rrTitle = mk("text", {x:1145, y:1547, "font-size":32, fill:"#222", textLength:154, lengthAdjust:"spacingAndGlyphs"}, plot);


rrTitle.textContent = "Rich Ratio";
const rrBar = mk("rect", {x:1145, y:ratioY(0.155), width:51, height:ratioY(0.08)-ratioY(0.155), fill:"url(#ratioGrad)"}, plot);


ratioTicks.forEach((v,i)=>{
  const y = ratioY(v);
  const a = mk("line", {x1:1145, x2:1155, y1:y, y2:y, stroke:"#fff", "stroke-width":1.6}, plot);
  
  
  const b = mk("line", {x1:1186, x2:1196, y1:y, y2:y, stroke:"#fff", "stroke-width":1.6}, plot);
  
  
  const t = mk("text", {x:1213, y:y+9, "font-size":26.5, fill:"#222"}, plot);
  
  
  t.textContent = ratioTickLabels[i];
});

/* ---------- gene count legend ---------- */
const glTitle = mk("text", {x:1145, y:1926, "font-size":32, fill:"#222", textLength:180, lengthAdjust:"spacingAndGlyphs"}, plot);


glTitle.textContent = "Nr. of genes";
geneLegendCounts.forEach((n,i)=>{
  const y = 1970 + i*52.6;
  const c = mk("circle", {cx:1169.5, cy:y, r:geneR(n), fill:"#4d4d4d", "fill-opacity":.85}, plot);
  
  
  const t = mk("text", {x:1213, y:y+12, "font-size":26.5, fill:"#222"}, plot);
  
  
  t.textContent = String(n);
});
</script>
</body>
</html>
